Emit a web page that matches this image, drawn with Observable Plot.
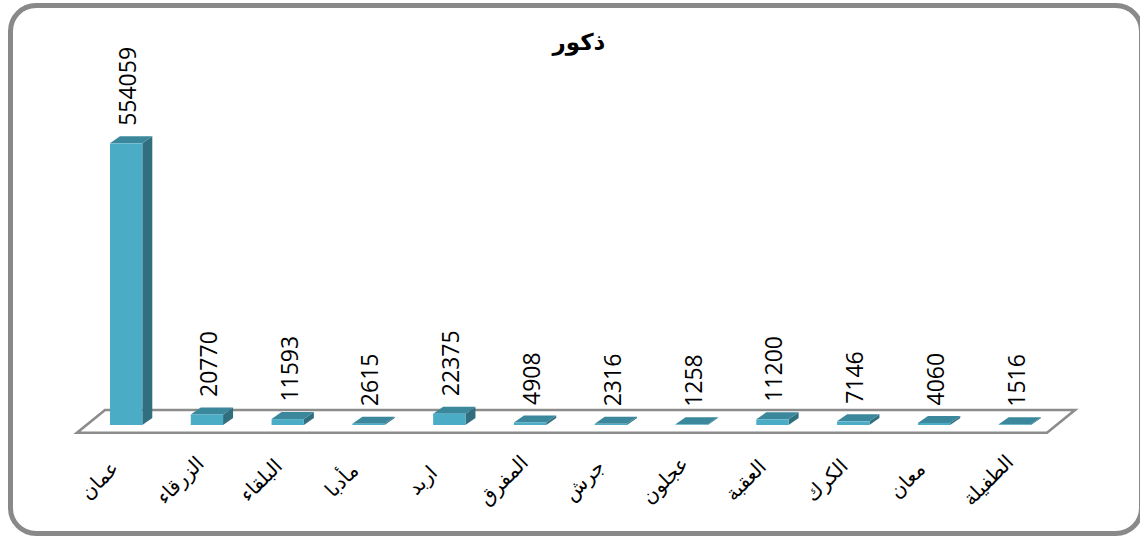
<!DOCTYPE html>
<html><head><meta charset="utf-8">
<script src="https://cdn.jsdelivr.net/npm/d3@7"></script>
<script src="https://cdn.jsdelivr.net/npm/@observablehq/plot@0.6"></script>
<style>
html,body{margin:0;padding:0;background:#fff;overflow:hidden}
#wrap{position:relative;width:1140px;height:537px;overflow:hidden}
#frame{position:absolute;left:8px;top:3px;width:1136px;height:533px;box-sizing:border-box;border:5.5px solid #898989;border-radius:28px;pointer-events:none}
#title{position:absolute;left:0;width:1158px;top:29px;text-align:center;font:bold 23px "DejaVu Sans";direction:rtl;color:#000}
#chart{position:absolute;left:0;top:0}
</style></head><body>
<div id="wrap"><div id="chart"></div><div id="frame"></div><div id="title">ذكور</div></div>
<script>
const categories = ["عمان","الزرقاء","البلقاء","مأدبا","اربد","المفرق","جرش","عجلون","العقبة","الكرك","معان","الطفيلة"];
const values = [554059, 20770, 11593, 2615, 22375, 4908, 2316, 1258, 11200, 7146, 4060, 1516];
const yDomain = [0, 600000];

const data = categories.map((c, i) => ({c, v: values[i]}));
const FRONT = "#4bacc6", SIDE = "#316f7f", TOP = "#3b889c";
const DX = 10, DY = 7;

const floor = (index, scales) => {
  const [r0, r1] = scales.x.range();
  const yb = scales.y(0);
  const g = d3.create("svg:g");
  g.append("polygon")
    .attr("points", [[r0 + 15.5, yb + 7.7], [r1 - 32.5, yb + 7.7], [r1 - 4.5, yb - 15], [r0 + 43.5, yb - 15]].join(" "))
    .attr("fill", "#fff").attr("stroke", "#8c8c8c").attr("stroke-width", 2.6).attr("stroke-linejoin", "miter");
  return g.node();
};

const faces = (index, scales) => {
  const x = scales.x, y = scales.y, bw = x.bandwidth();
  const g = d3.create("svg:g");
  data.forEach(d => {
    const x0 = x(d.c), x1 = x0 + bw, yt = y(d.v), yb = y(0);
    g.append("polygon").attr("points", [[x1, yb], [x1, yt], [x1 + DX, yt - DY], [x1 + DX, yb - DY]].join(" ")).attr("fill", SIDE);
    g.append("polygon").attr("points", [[x0, yt], [x1, yt], [x1 + DX, yt - DY], [x0 + DX, yt - DY]].join(" ")).attr("fill", TOP);
  });
  return g.node();
};

const chart = Plot.plot({
  width: 1140, height: 537,
  marginLeft: 61.5, marginRight: 60.5, marginTop: 120, marginBottom: 112,
  style: {fontFamily: "Open Sans", background: "transparent"},
  x: {domain: categories, padding: 0.6, round: false, axis: null},
  y: {domain: yDomain, axis: null},
  marks: [
    floor,
    faces,
    Plot.barY(data, {x: "c", y: "v", fill: FRONT}),
    Plot.text(data, {x: "c", y: "v", text: d => String(d.v), rotate: -90, textAnchor: "start", lineAnchor: "middle", dy: -18, dx: 2, fontSize: 23, fill: "#000"}),
    Plot.text(data, {x: "c", frameAnchor: "bottom", text: "c", rotate: -45, textAnchor: "middle", lineAnchor: "middle", dy: 55, dx: -27, fontSize: 20, fontFamily: "DejaVu Sans", fill: "#000"})
  ]
});
document.getElementById("chart").appendChild(chart);
</script>
</body></html>
